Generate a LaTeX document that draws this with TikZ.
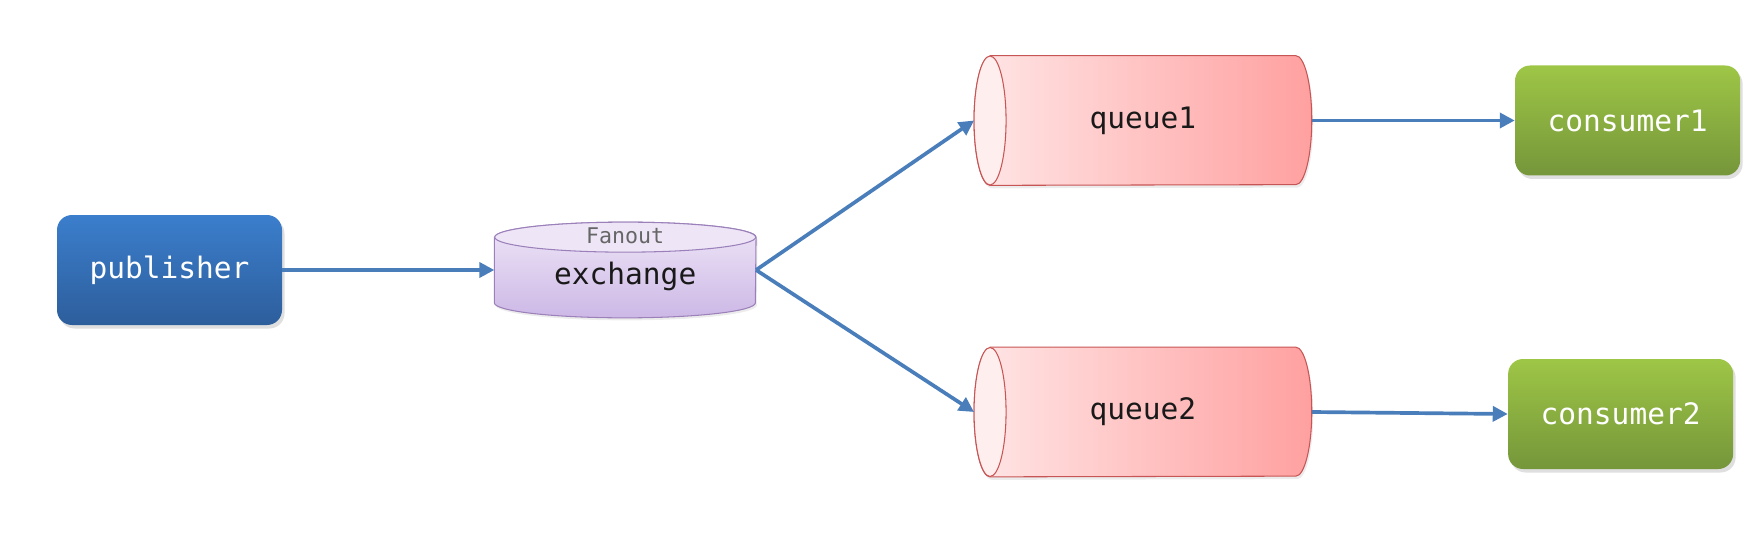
\documentclass[tikz,border=0pt]{standalone}
\usepackage{fontspec}
\setmonofont{DejaVu Sans Mono}
\usetikzlibrary{arrows.meta,positioning,shadows,backgrounds}

\definecolor{pubtop}{RGB}{59,126,204}
\definecolor{pubbot}{RGB}{45,94,156}
\definecolor{contop}{RGB}{158,198,70}
\definecolor{conbot}{RGB}{117,150,58}
\definecolor{exctop}{RGB}{238,230,247}
\definecolor{excbot}{RGB}{205,184,230}
\definecolor{excline}{RGB}{155,128,186}
\definecolor{queleft}{RGB}{255,230,230}
\definecolor{queright}{RGB}{255,160,160}
\definecolor{queend}{RGB}{255,238,238}
\definecolor{queline}{RGB}{200,85,85}
\definecolor{flow}{RGB}{74,126,187}

\tikzset{
  client/.style={rounded corners=0.3cm, minimum width=4.5cm, minimum height=2.2cm,
    text=white, font=\ttfamily\fontsize{16.8}{20}\selectfont,
    drop shadow={opacity=0.25, shadow xshift=0.05cm, shadow yshift=-0.07cm}},
  pub/.style={client, top color=pubtop, bottom color=pubbot},
  con/.style={client, top color=contop, bottom color=conbot},
  store/.style={inner sep=0pt, text=black!90, font=\ttfamily\fontsize{16.8}{20}\selectfont},
  link/.style={draw=flow, line width=2.1pt, -{Triangle[length=0.3cm,width=0.3cm]}},
}

\begin{document}
\begin{tikzpicture}
\useasboundingbox (0,0) rectangle (35.18,-10.74);

\node[pub] (publisher) at (3.39,-5.4) {publisher};
\node[store, minimum width=5.22cm, minimum height=1.9cm, right=4.24cm of publisher] (exchange) {\raisebox{-0.28cm}[0pt][0pt]{exchange}};
\node[text=black!60, font=\ttfamily\fontsize{12.3}{14}\selectfont] (fanout) at ([yshift=-0.27cm]exchange.north) {Fanout};

\node[store, minimum width=6.74cm, minimum height=2.58cm, right=4.36cm of exchange, yshift=2.99cm] (queue1) {queue1};
\node[store, minimum width=6.74cm, minimum height=2.58cm, right=4.36cm of exchange, yshift=-2.84cm] (queue2) {queue2};

\node[con, right=4.06cm of queue1] (consumer1) {consumer1};
\node[con, right=3.92cm of queue2, yshift=-0.04cm] (consumer2) {consumer2};

\begin{scope}[on background layer]
% exchange drum
\shadedraw[top color=exctop, bottom color=excbot, draw=excline, line width=0.6pt,
  drop shadow={opacity=0.15, shadow xshift=0.03cm, shadow yshift=-0.05cm}]
  ([yshift=-0.3cm]exchange.north west) -- ([yshift=0.3cm]exchange.south west)
  arc[start angle=180, end angle=360, x radius=2.61cm, y radius=0.3cm]
  -- ([yshift=-0.3cm]exchange.north east)
  arc[start angle=0, end angle=180, x radius=2.61cm, y radius=0.3cm] -- cycle;
\filldraw[fill=exctop, draw=excline, line width=0.6pt] ([yshift=-0.3cm]exchange.north) ellipse[x radius=2.61cm, y radius=0.3cm];
% queues lying on their side
\foreach \q in {queue1,queue2}{
  \shadedraw[left color=queleft, right color=queright, draw=queline, line width=0.6pt,
    drop shadow={opacity=0.15, shadow xshift=0.03cm, shadow yshift=-0.06cm}]
    ([xshift=0.32cm]\q.north west) -- ([xshift=-0.32cm]\q.north east)
    arc[start angle=90, end angle=-90, x radius=0.32cm, y radius=1.29cm]
    -- ([xshift=0.32cm]\q.south west)
    arc[start angle=270, end angle=90, x radius=0.32cm, y radius=1.29cm] -- cycle;
  \filldraw[fill=queend, draw=queline, line width=0.6pt] ([xshift=0.32cm]\q.west) ellipse[x radius=0.32cm, y radius=1.29cm];
}
\end{scope}

\draw[link] (publisher.east) -- (exchange.west);
\draw[link] (exchange.east) -- (queue1.west);
\draw[link] (exchange.east) -- (queue2.west);
\draw[link] (queue1.east) -- (consumer1.west);
\draw[link] (queue2.east) -- (consumer2.west);
\end{tikzpicture}
\end{document}
